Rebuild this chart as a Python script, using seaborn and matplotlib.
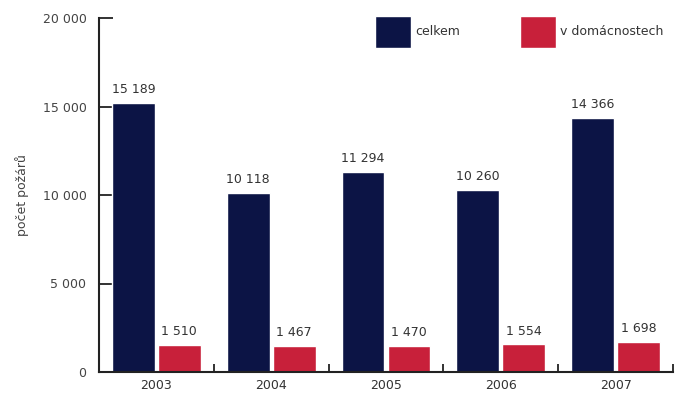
import pandas as pd
import seaborn as sns
import matplotlib.pyplot as plt
from matplotlib.ticker import FuncFormatter, FixedLocator

# === Data ===
years = ['2003', '2004', '2005', '2006', '2007']
celkem = [15189, 10118, 11294, 10260, 14366]
domacnosti = [1510, 1467, 1470, 1554, 1698]
series = ['celkem', 'v domácnostech']
colors = ['#0c1445', '#c8203a']

df = pd.DataFrame({
    'rok': years * 2,
    'pocet': celkem + domacnosti,
    'typ': [series[0]] * len(years) + [series[1]] * len(years),
})

def sep(v):
    return f"{int(v):,}".replace(',', ' ')

sns.set_style('white')
plt.rcParams['font.family'] = ['DejaVu Sans']
plt.rcParams['text.color'] = '#333333'

fig = plt.figure(figsize=(6.79, 3.96), dpi=100)
ax = fig.add_axes([99 / 679, 1 - 372 / 396, 574 / 679, (372 - 18) / 396])

sns.barplot(data=df, x='rok', y='pocet', hue='typ', palette=colors,
            width=0.8, gap=0.07, ax=ax, saturation=1, legend=True)

for cont in ax.containers:
    ax.bar_label(cont, labels=[sep(b.get_height()) for b in cont],
                 padding=5, fontsize=9, color='#333333')

ax.set_ylim(0, 20000)
ax.set_xlim(-0.5, 4.5)
ax.set_yticks([0, 5000, 10000, 15000, 20000])
ax.yaxis.set_major_formatter(FuncFormatter(lambda v, p: sep(v)))
ax.tick_params(axis='y', left=True, direction='in', length=10, width=1.3,
               labelsize=9, color='#222222', labelcolor='#444444', pad=9)
ax.tick_params(axis='x', which='major', length=0, labelsize=9, pad=5,
               labelcolor='#333333')
ax.xaxis.set_minor_locator(FixedLocator([0.5, 1.5, 2.5, 3.5, 4.5]))
ax.tick_params(axis='x', which='minor', bottom=True, direction='in',
               length=6, width=1.3, color='#222222')
ax.set_xlabel('')
ax.set_ylabel('počet požárů', fontsize=9, color='#444444', labelpad=10)

for s in ['top', 'right']:
    ax.spines[s].set_visible(False)
for s in ['left', 'bottom']:
    ax.spines[s].set_color('#222222')
    ax.spines[s].set_linewidth(1.5)

leg = ax.legend(loc='upper left', bbox_to_anchor=(375 / 679, 1 - 16 / 396),
                bbox_transform=fig.transFigure, ncol=2, frameon=False,
                fontsize=9, handlelength=2.9, handleheight=3.5,
                handletextpad=0.3, columnspacing=4.8, borderpad=0,
                borderaxespad=0)

fig.savefig('out.png', dpi=100)
